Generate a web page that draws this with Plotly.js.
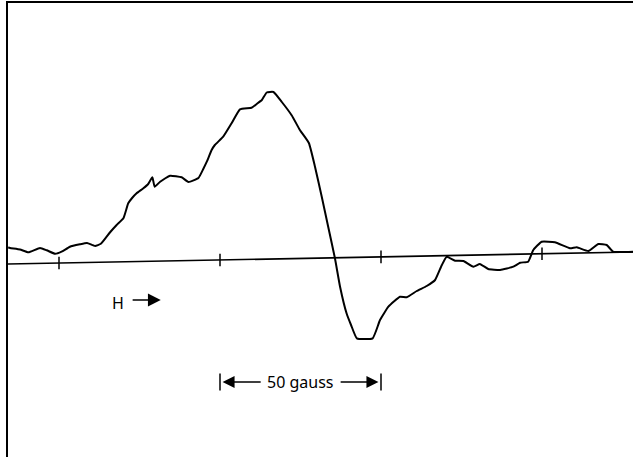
<!DOCTYPE html>
<html>
<head>
<meta charset="utf-8">
<script src="https://cdn.plot.ly/plotly-3.0.1.min.js"></script>
<style>html,body{margin:0;padding:0;background:#fff;overflow:hidden;}#chart{width:700px;height:457px;}</style>
</head>
<body>
<div id="chart"></div>
<script>
// Magnetic field (gauss, relative to the second tick) and derivative signal (arbitrary units)
const field = [-65.8,-65.2,-62.1,-59.5,-55.9,-53.8,-51.2,-49.2,-46.6,-43.5,-41.3,-38.8,-37.0,-34.2,-32.1,-30.0,-28.5,-27.3,-25.9,-23.8,-22.3,-21.0,-20.3,-18.6,-15.5,-11.9,-9.8,-6.7,-5.2,-4.1,-2.6,-1.6,1.0,3.6,6.2,9.8,11.4,13.0,14.5,16.6,19.2,22.3,24.8,27.6,29.5,31.6,33.6,35.7,37.3,39.3,40.7,42.5,47.4,49.7,52.3,55.9,58.0,61.1,64.2,66.8,68.9,70.4,73.0,75.6,78.7,80.7,83.3,87.0,91.1,93.2,95.7,97.3,99.9,104.0,108.7,110.8,114.4,117.5,120.1,122.1,128.3];
const signal = [16.5,16,14.5,11.7,16,13.7,10.2,12.3,17.3,19.7,21,18,20.2,31.5,39,45.7,60.7,66,70.7,75.7,80,86.7,77.3,82.3,88.3,86.7,82,86,95,102.3,114,119,127.3,140.7,154.7,156.3,160,164,171.5,172,162,148.5,134,121,97.3,67.3,37.3,5.7,-23,-49.3,-61,-74.3,-74.3,-56,-42.7,-32.7,-33.3,-27,-22,-16,-1,7.3,3.3,3,-2.7,0,-5,-6,-2.7,1.3,2.3,14,22.3,21.7,15.7,16.7,13,20,19,12.3,12.3];
// Recorder baseline (slightly tilted) and field marks every 50 gauss
const baselineField = [-65.84, 128.26];
const baselineLevel = [0, 12];
const tickFields = [-50, 0, 50, 100];
const scaleBar = [0, 50];
const scaleLabel = "50 gauss";
const fieldLabel = "H";

function baseAt(g){
  const t = (g - baselineField[0]) / (baselineField[1] - baselineField[0]);
  return baselineLevel[0] + t * (baselineLevel[1] - baselineLevel[0]);
}

const traces = [
  {x: baselineField, y: baselineLevel, mode: 'lines', line: {color: '#000', width: 1.7}, hoverinfo: 'skip'},
  {x: tickFields, y: tickFields.map(baseAt), mode: 'markers',
   marker: {symbol: 'line-ns-open', size: 9, color: '#000', line: {color: '#000', width: 1.5}}, hoverinfo: 'skip'},
  {x: field, y: signal, mode: 'lines', line: {color: '#000', width: 2, shape: 'spline', smoothing: 0.4}},
  {x: scaleBar, y: scaleBar.map(() => -118), mode: 'markers',
   marker: {symbol: 'line-ns-open', size: 12, color: '#000', line: {color: '#000', width: 1.5}}, hoverinfo: 'skip'}
];

const fnt = {family: 'Noto Sans, DejaVu Sans, sans-serif', size: 16, color: '#000'};
const layout = {
  width: 700, height: 457,
  margin: {l: 8, r: 0, t: 3, b: 0, pad: 0},
  paper_bgcolor: '#fff', plot_bgcolor: '#fff',
  showlegend: false,
  xaxis: {range: [-65.84, 149.07], side: 'top', showline: true, linecolor: '#000', linewidth: 2,
          showgrid: false, zeroline: false, showticklabels: false, ticks: ''},
  yaxis: {range: [-193, 261], showline: true, linecolor: '#000', linewidth: 2,
          showgrid: false, zeroline: false, showticklabels: false, ticks: ''},
  annotations: [
    {x: -31.6, y: -38.5, xref: 'x', yref: 'y', text: fieldLabel, showarrow: false, font: fnt},
    {x: -18.4, y: -36, ax: -27.6, ay: -36, axref: 'x', ayref: 'y', xref: 'x', yref: 'y', text: '',
     showarrow: true, arrowhead: 2, arrowsize: 1.6, arrowwidth: 1.6, arrowcolor: '#000'},
    {x: 25, y: -118, xref: 'x', yref: 'y', text: scaleLabel, showarrow: false, font: fnt},
    {x: scaleBar[0] + 0.8, y: -118, ax: 13.1, ay: -118, axref: 'x', ayref: 'y', xref: 'x', yref: 'y', text: '',
     showarrow: true, arrowhead: 2, arrowsize: 1.6, arrowwidth: 1.5, arrowcolor: '#000'},
    {x: scaleBar[1] - 0.8, y: -118, ax: 37, ay: -118, axref: 'x', ayref: 'y', xref: 'x', yref: 'y', text: '',
     showarrow: true, arrowhead: 2, arrowsize: 1.6, arrowwidth: 1.5, arrowcolor: '#000'}
  ]
};

Plotly.newPlot('chart', traces, layout, {staticPlot: true, displayModeBar: false});
</script>
</body>
</html>
